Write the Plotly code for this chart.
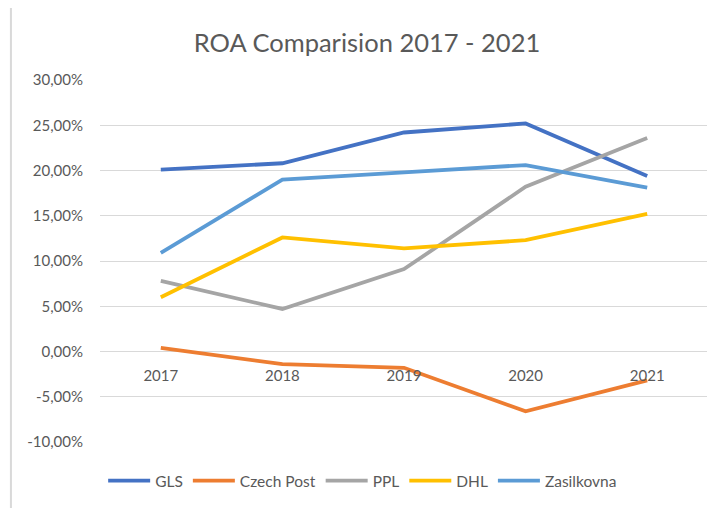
import plotly.graph_objects as go

years = ["2017", "2018", "2019", "2020", "2021"]
gls = [0.201, 0.208, 0.242, 0.252, 0.194]
czech_post = [0.004, -0.014, -0.018, -0.066, -0.032]
ppl = [0.078, 0.047, 0.091, 0.182, 0.236]
dhl = [0.060, 0.126, 0.114, 0.123, 0.152]
zasilkovna = [0.109, 0.190, 0.198, 0.206, 0.181]

y_tickvals = [-0.10, -0.05, 0.0, 0.05, 0.10, 0.15, 0.20, 0.25, 0.30]
y_ticktext = ["-10,00%", "-5,00%", "0,00%", "5,00%", "10,00%", "15,00%", "20,00%", "25,00%", "30,00%"]

series = [
    ("GLS", gls, "#4472C4"),
    ("Czech Post", czech_post, "#ED7D31"),
    ("PPL", ppl, "#A5A5A5"),
    ("DHL", dhl, "#FFC000"),
    ("Zasilkovna", zasilkovna, "#5B9BD5"),
]

font_family = "Lato, 'Open Sans', sans-serif"
txt = "#595959"

W, H = 707, 500  # page adds 8px body margin
fig = go.Figure()
for name, vals, color in series:
    fig.add_trace(go.Scatter(x=years, y=vals, name=name, mode="lines",
                             line=dict(color=color, width=3.8)))

fig.update_layout(
    width=W, height=H,
    margin=dict(l=92, r=7, t=72, b=66),
    paper_bgcolor="white", plot_bgcolor="white",
    font=dict(family=font_family, color=txt, size=15),
    title=dict(text="ROA Comparision 2017 - 2021", x=(367 - 8) / W, xref="container", xanchor="center",
               y=1 - (43 - 8) / H, yref="container", yanchor="middle",
               font=dict(size=25.5, color=txt, family=font_family)),
    showlegend=True,
    legend=dict(orientation="h", x=0.432, xanchor="center", y=-0.108, yanchor="middle",
                font=dict(size=15.5, color=txt), itemwidth=42, bgcolor="rgba(0,0,0,0)"),
    shapes=[dict(type="rect", xref="paper", yref="paper", x0=-0.1465, x1=1.03, y0=-0.25, y1=1.2044,
                 line=dict(color="#D9D9D9", width=2), fillcolor="rgba(0,0,0,0)", layer="below")],
)

fig.update_yaxes(range=[-0.10, 0.30], tickvals=y_tickvals, ticktext=y_ticktext,
                 showgrid=True, gridcolor="#D9D9D9", gridwidth=1.3, zeroline=False,
                 showline=False, ticks="", ticklabelstandoff=16,
                 tickfont=dict(size=15, color=txt))
fig.update_xaxes(type="category", anchor="free", position=0.25, showgrid=False, zeroline=False,
                 showline=False, ticks="", ticklabelstandoff=13,
                 tickfont=dict(size=15, color=txt), range=[-0.5, 4.5])

fig.write_html("out.html")
